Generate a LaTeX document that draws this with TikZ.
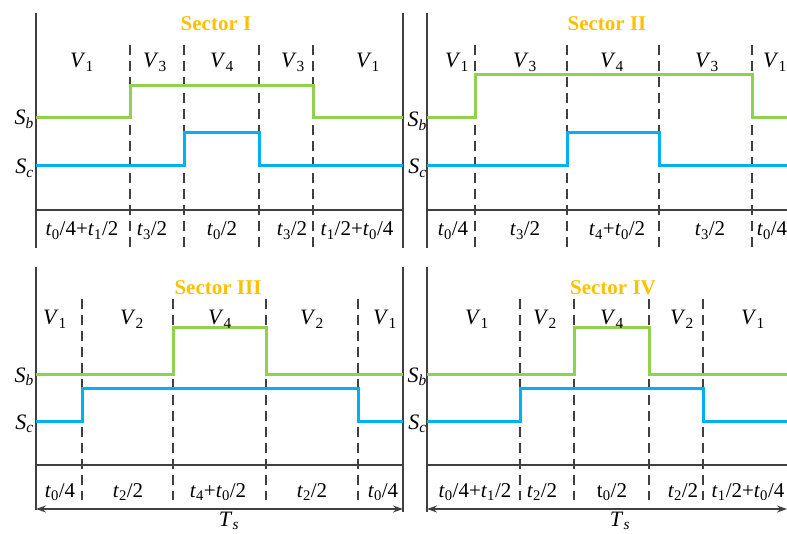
\documentclass[tikz,border=0pt]{standalone}
\usepackage{fontspec}
\setmainfont{Liberation Serif}
\usetikzlibrary{arrows.meta}
\definecolor{sgreen}{HTML}{92D050}
\definecolor{sblue}{HTML}{00B0F0}
\definecolor{sorange}{HTML}{FFC000}
\definecolor{axgray}{HTML}{404040}
\newcommand\ssub[2]{\textit{#1}\textsubscript{#2}}
\newcommand\ti[1]{\textit{t}\textsubscript{#1}}
\begin{document}
\begin{tikzpicture}[x=1pt,y=-1pt,
  axis/.style={draw=axgray,line width=1.3pt},
  dsh/.style={draw=axgray,line width=1.3pt,dash pattern=on 10pt off 6pt},
  gsig/.style={draw=sgreen,line width=3pt},
  bsig/.style={draw=sblue,line width=3pt},
  vlab/.style={anchor=base,font=\fontsize{22}{24}\selectfont,inner sep=0pt},
  tlab/.style={anchor=base,font=\fontsize{21}{24}\selectfont,inner sep=0pt},
  ttl/.style={anchor=base,font=\fontsize{21}{24}\selectfont\bfseries,text=sorange,inner sep=0pt},
  slab/.style={anchor=base east,font=\fontsize{22}{24}\selectfont,inner sep=0pt},
  tsarrow/.style={draw=axgray,line width=1.2pt,{Stealth[length=10pt,width=7pt]}-{Stealth[length=10pt,width=7pt]}}
]
\useasboundingbox (0,0) rectangle (787,534);

% ================= Panel 1 =================
\draw[axis] (36,13) -- (36,248);
\draw[axis] (403,13) -- (403,248);
\draw[axis] (36,210) -- (403,210);
\foreach \x in {130,184,259,313} \draw[dsh] (\x,45) -- (\x,248);
\draw[gsig] (36,118) -- (130,118) -- (130,86) -- (313,86) -- (313,118) -- (403,118);
\draw[bsig] (36,166) -- (184,166) -- (184,133) -- (259,133) -- (259,166) -- (403,166);
\node[ttl] (s1) at (216,31) {Sector I};
\node[vlab] (p1v1) at (82,68) {\ssub{V}{1}};
\node[vlab] (p1v2) at (155,68) {\ssub{V}{3}};
\node[vlab] (p1v3) at (222,68) {\ssub{V}{4}};
\node[vlab] (p1v4) at (293,68) {\ssub{V}{3}};
\node[vlab] (p1v5) at (368,68) {\ssub{V}{1}};
\node[tlab] (p1t1) at (82,236) {\ti{0}/4+\ti{1}/2};
\node[tlab] (p1t2) at (152,236) {\ti{3}/2};
\node[tlab] (p1t3) at (222,236) {\ti{0}/2};
\node[tlab] (p1t4) at (292,236) {\ti{3}/2};
\node[tlab] (p1t5) at (357,236) {\ti{1}/2+\ti{0}/4};
\node[slab] (p1sb) at (34,125) {\ssub{S}{\textit{b}}};
\node[slab] (p1sc) at (34,174) {\ssub{S}{\textit{c}}};

% ================= Panel 2 =================
\draw[axis] (427,13) -- (427,248);
\draw[axis] (427,210) -- (787,210);
\foreach \x in {475,567,659,752} \draw[dsh] (\x,45) -- (\x,248);
\draw[gsig] (427,118) -- (475,118) -- (475,75) -- (752,75) -- (752,118) -- (787,118);
\draw[bsig] (427,166) -- (567,166) -- (567,133) -- (659,133) -- (659,166) -- (787,166);
\node[ttl] (s2) at (607,31) {Sector II};
\node[vlab] (p2v1) at (457,68) {\ssub{V}{1}};
\node[vlab] (p2v2) at (525,68) {\ssub{V}{3}};
\node[vlab] (p2v3) at (612,68) {\ssub{V}{4}};
\node[vlab] (p2v4) at (707,68) {\ssub{V}{3}};
\node[vlab] (p2v5) at (775,68) {\ssub{V}{1}};
\node[tlab] (p2t1) at (453,236) {\ti{0}/4};
\node[tlab] (p2t2) at (525,236) {\ti{3}/2};
\node[tlab] (p2t3) at (617,236) {\ti{4}+\ti{0}/2};
\node[tlab] (p2t4) at (710,236) {\ti{3}/2};
\node[tlab] (p2t5) at (772,236) {\ti{0}/4};
\node[slab] (p2sb) at (427,127) {\ssub{S}{\textit{b}}};
\node[slab] (p2sc) at (427,174) {\ssub{S}{\textit{c}}};

% ================= Panel 3 =================
\draw[axis] (36,267) -- (36,510);
\draw[axis] (403,267) -- (403,512);
\draw[axis] (36,465) -- (403,465);
\foreach \x in {82,173,266,358} \draw[dsh] (\x,299) -- (\x,500);
\draw[gsig] (36,375) -- (173,375) -- (173,328) -- (266,328) -- (266,375) -- (403,375);
\draw[bsig] (36,421) -- (82,421) -- (82,389) -- (358,389) -- (358,421) -- (403,421);
\node[ttl] (s3) at (218,295) {Sector III};
\node[vlab] (p3v1) at (55,325) {\ssub{V}{1}};
\node[vlab] (p3v2) at (132,325) {\ssub{V}{2}};
\node[vlab] (p3v3) at (220,325) {\ssub{V}{4}};
\node[vlab] (p3v4) at (312,325) {\ssub{V}{2}};
\node[vlab] (p3v5) at (385,325) {\ssub{V}{1}};
\node[tlab] (p3t1) at (60,497) {\ti{0}/4};
\node[tlab] (p3t2) at (128,497) {\ti{2}/2};
\node[tlab] (p3t3) at (218,497) {\ti{4}+\ti{0}/2};
\node[tlab] (p3t4) at (312,497) {\ti{2}/2};
\node[tlab] (p3t5) at (383,497) {\ti{0}/4};
\node[slab] (p3sb) at (34,382) {\ssub{S}{\textit{b}}};
\node[slab] (p3sc) at (34,429) {\ssub{S}{\textit{c}}};
\coordinate (a3l) at (36,509);
\coordinate (a3r) at (403,509);
\draw[tsarrow] (a3l) -- (a3r);
\node[vlab] (ts3) at (229,526) {\ssub{T}{\textit{s}}};

% ================= Panel 4 =================
\draw[axis] (427,267) -- (427,512);
\draw[axis] (427,465) -- (787,465);
\foreach \x in {520,574,649,703} \draw[dsh] (\x,299) -- (\x,500);
\draw[gsig] (427,375) -- (574,375) -- (574,328) -- (649,328) -- (649,375) -- (787,375);
\draw[bsig] (427,421) -- (520,421) -- (520,389) -- (703,389) -- (703,421) -- (787,421);
\node[ttl] (s4) at (613,295) {Sector IV};
\node[vlab] (p4v1) at (477,325) {\ssub{V}{1}};
\node[vlab] (p4v2) at (545,325) {\ssub{V}{2}};
\node[vlab] (p4v3) at (612,325) {\ssub{V}{4}};
\node[vlab] (p4v4) at (682,325) {\ssub{V}{2}};
\node[vlab] (p4v5) at (753,325) {\ssub{V}{1}};
\node[tlab] (p4t1) at (475,497) {\ti{0}/4+\ti{1}/2};
\node[tlab] (p4t2) at (542,497) {\ti{2}/2};
\node[tlab] (p4t3) at (612,497) {t\textsubscript{0}/2};
\node[tlab] (p4t4) at (683,497) {\ti{2}/2};
\node[tlab] (p4t5) at (748,497) {\ti{1}/2+\ti{0}/4};
\node[slab] (p4sb) at (427,382) {\ssub{S}{\textit{b}}};
\node[slab] (p4sc) at (427,429) {\ssub{S}{\textit{c}}};
\coordinate (a4l) at (427,509);
\coordinate (a4r) at (787,509);
\draw[tsarrow] (a4l) -- (a4r);
\node[vlab] (ts4) at (620,526) {\ssub{T}{\textit{s}}};
\end{tikzpicture}
\end{document}
